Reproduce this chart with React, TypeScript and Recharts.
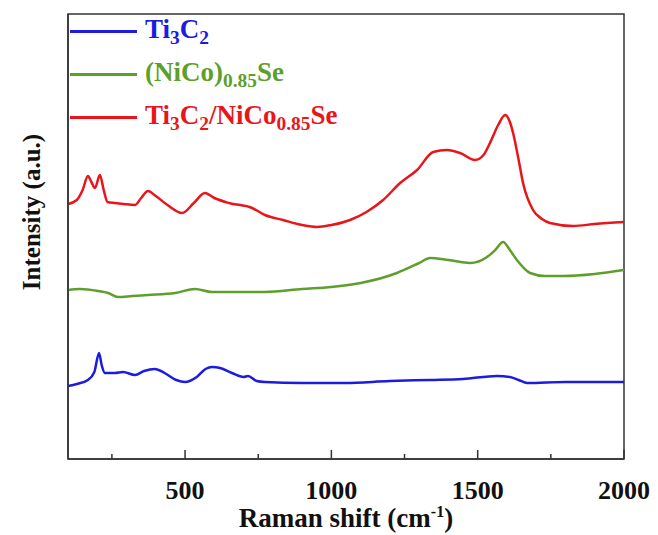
import { LineChart, Line, XAxis, YAxis, ReferenceArea } from 'recharts';

// Raman shift (cm-1) and intensity (a.u., stacked offsets)
const ti3c2Shift = [100, 130, 168, 190, 206, 215, 226, 260, 288, 329, 360, 397, 430, 470, 500, 540, 570, 592, 620, 660, 700, 715, 745, 773, 900, 1047, 1200, 1337, 1450, 1566, 1610, 1640, 1669, 1800, 2000];
const ti3c2Intensity = [73, 75, 79, 87, 106, 94, 86, 86, 87, 84, 88, 90, 86, 79, 77, 82, 90, 92, 91, 86, 82, 83, 78, 77, 76, 76, 78, 79, 80, 83, 82, 79, 76, 77, 77];

const nicoseShift = [100, 140, 203, 237, 271, 320, 373, 466, 534, 592, 700, 773, 900, 1000, 1100, 1224, 1300, 1337, 1400, 1474, 1532, 1560, 1587, 1610, 1634, 1679, 1730, 1792, 1900, 2000];
const nicoseIntensity = [169, 170, 168, 166, 162, 163, 164, 166, 170, 167, 167, 167, 170, 172, 176, 186, 196, 201, 199, 196, 202, 209, 217, 209, 199, 186, 183, 183, 185, 189];

const compositeShift = [100, 130, 150, 168, 180, 192, 209, 222, 235, 260, 290, 329, 350, 373, 400, 440, 490, 530, 568, 600, 650, 729, 773, 835, 900, 951, 1000, 1064, 1120, 1177, 1235, 1293, 1348, 1395, 1440, 1491, 1520, 1542, 1570, 1594, 1610, 1621, 1640, 1655, 1689, 1720, 1747, 1826, 1900, 2000];
const compositeIntensity = [255, 259, 269, 283, 277, 271, 284, 269, 257, 256, 255, 254, 261, 268, 263, 254, 246, 256, 266, 261, 256, 251, 244, 239, 234, 232, 234, 239, 247, 259, 276, 289, 307, 309, 306, 299, 304, 316, 334, 344, 337, 326, 299, 276, 249, 240, 236, 233, 235, 237];

const xTicks = [250, 500, 750, 1000, 1250, 1500, 1750, 2000];

const BLUE = '#1c1ce0';
const GREEN = '#5e9f2c';
const RED = '#e8161a';
const AXIS = '#333333';
const FONT = '"Liberation Serif", "Times New Roman", serif';

const toPoints = (xs: number[], ys: number[]) => xs.map((x, i) => ({ x, y: ys[i] }));

const series = [
  { key: 'ti3c2', color: BLUE, data: toPoints(ti3c2Shift, ti3c2Intensity) },
  { key: 'nicose', color: GREEN, data: toPoints(nicoseShift, nicoseIntensity) },
  { key: 'composite', color: RED, data: toPoints(compositeShift, compositeIntensity) },
];

function XTick(props: any) {
  const { x, y, payload } = props;
  const major = payload.value % 500 === 0;
  return (
    <g>
      <line x1={x} x2={x} y1={y} y2={y - (major ? 9 : 5)} stroke={AXIS} strokeWidth={1.5} />
      {major && (
        <text x={x} y={y + 40} textAnchor="middle" fontFamily={FONT} fontWeight="bold" fontSize={26} fill="#111">
          {payload.value}
        </text>
      )}
    </g>
  );
}

function XTitle() {
  return (
    <text x={346} y={527} textAnchor="middle" fontFamily={FONT} fontWeight="bold" fontSize={27} fill="#111">
      Raman shift (cm
      <tspan dy={-10} fontSize={16}>-1</tspan>
      <tspan dy={10}>)</tspan>
    </text>
  );
}

function YTitle() {
  return (
    <text
      x={31}
      y={212}
      transform="rotate(-90 31 212)"
      textAnchor="middle"
      dominantBaseline="central"
      fontFamily={FONT}
      fontWeight="bold"
      fontSize={25}
      fill="#111"
    >
      Intensity (a.u.)
    </text>
  );
}

const subStyle = { fontSize: '0.72em', verticalAlign: '-0.32em' };

const legendRows = [
  { color: BLUE, label: <>Ti<span style={subStyle}>3</span>C<span style={subStyle}>2</span></> },
  { color: GREEN, label: <>(NiCo)<span style={subStyle}>0.85</span>Se</> },
  {
    color: RED,
    label: <>Ti<span style={subStyle}>3</span>C<span style={subStyle}>2</span>/NiCo<span style={subStyle}>0.85</span>Se</>,
  },
];

function LegendBox() {
  return (
    <div
      style={{
        position: 'absolute',
        left: 70,
        top: 10,
        fontFamily: FONT,
        fontWeight: 'bold',
        fontSize: 27,
        pointerEvents: 'none',
      }}
    >
      {legendRows.map((r, i) => (
        <div key={i} style={{ display: 'flex', alignItems: 'center', height: 43, color: r.color }}>
          <span style={{ display: 'inline-block', width: 67, height: 2.5, background: r.color, marginRight: 8 }} />
          <span style={{ lineHeight: 1, position: 'relative', top: 0, whiteSpace: 'nowrap' }}>{r.label}</span>
        </div>
      ))}
    </div>
  );
}

export default function App() {
  return (
    <div style={{ position: 'absolute', left: 0, top: 0, width: 658, height: 535, background: '#fff' }}>
      <LineChart width={658} height={535} margin={{ top: 14, right: 34, left: 0, bottom: 0 }}>
        <XAxis
          type="number"
          dataKey="x"
          domain={[100, 2000]}
          ticks={xTicks}
          allowDataOverflow
          height={76}
          tickSize={0}
          tickMargin={0}
          tickLine={false}
          tick={<XTick />}
          axisLine={{ stroke: AXIS, strokeWidth: 1.5 }}
          label={<XTitle />}
        />
        <YAxis
          type="number"
          domain={[0, 445]}
          width={68}
          tick={false}
          tickLine={false}
          axisLine={{ stroke: AXIS, strokeWidth: 1.5 }}
          label={<YTitle />}
        />
        <ReferenceArea
          x1={100}
          x2={2000}
          y1={0}
          y2={445}
          fill="none"
          stroke={AXIS}
          strokeWidth={1.5}
          ifOverflow="visible"
        />
        {series.map((s) => (
          <Line
            key={s.key}
            data={s.data}
            dataKey="y"
            type="monotone"
            stroke={s.color}
            strokeWidth={2.5}
            dot={false}
            isAnimationActive={false}
          />
        ))}
      </LineChart>
      <LegendBox />
    </div>
  );
}
